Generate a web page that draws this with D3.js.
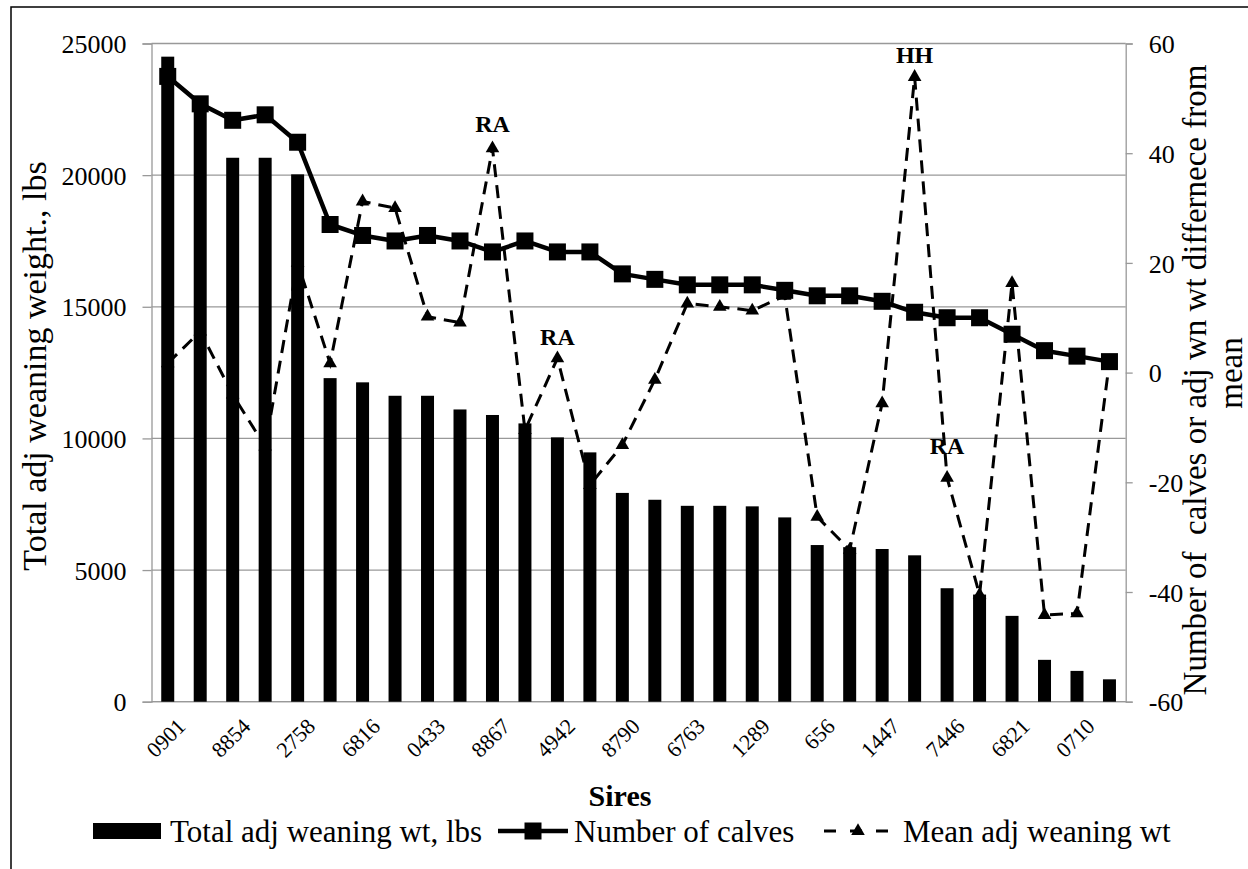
<!DOCTYPE html>
<html><head><meta charset="utf-8">
<script src="https://cdn.jsdelivr.net/npm/d3@7"></script>
<style>
body{margin:0;background:#fff}
svg{display:block;font-family:"Liberation Serif","Times New Roman",serif}
text{font-family:"Liberation Serif","Times New Roman",serif;fill:#000}
</style>
</head><body>
<svg id="chart" width="1248" height="869"></svg>
<script>
// ---- data ----
const sireLabels = ["0901","8854","2758","6816","0433","8867","4942","8790","6763","1289","656","1447","7446","6821","0710"];
const totalWt = [24500,22800,20660,20660,20030,12290,12130,11620,11620,11100,
                 10890,10570,10040,9470,7930,7670,7440,7440,7420,7000,
                 5950,5870,5800,5560,4310,4070,3260,1590,1170,850];
const numCalves = [54,49,46,47,42,27,25,24,25,24,22,24,22,22,18,17,16,16,16,15,14,14,13,11,10,10,7,4,3,2];
const meanDiff = [1.7,7.5,-4,-13.5,20,1.7,31.2,30,10.2,9.1,40.9,-10.5,2.6,-20.5,-13.2,-1.3,12.6,12,11.3,14,
                  -26.3,-32.3,-5.6,53.9,-19.2,-40.5,16.3,-44.2,-43.9,2];
const leftTicks = [0,5000,10000,15000,20000,25000];
const rightTicks = [-60,-40,-20,0,20,40,60];
const pointNotes = [{i:10,text:"RA",dy:-16},{i:12,text:"RA",dy:-13},{i:23,text:"HH",dy:-14},{i:24,text:"RA",dy:-24}];
const legendItems = ["Total adj weaning wt, lbs","Number of calves","Mean adj weaning wt"];

// ---- layout ----
const L=151.5, R=1125.7, T=43.5, B=701.7;
const svg = d3.select("#chart");
const grid = "#999999";
const serif = "Liberation Serif, Times New Roman, serif";

svg.append("rect").attr("x",11).attr("y",7).attr("width",1300).attr("height",900)
  .attr("fill","none").attr("stroke","#000").attr("stroke-width",1.5);

const idx = d3.range(totalWt.length);
const x = d3.scaleBand().domain(idx).range([L,R]).paddingInner(0.6).paddingOuter(0.3);
const cx = i => x(i) + x.bandwidth()/2;
const yL = d3.scaleLinear().domain([0,25000]).range([B,T]);
const yR = d3.scaleLinear().domain([-60,60]).range([B,T]);

// gridlines
svg.append("g").selectAll("line").data(leftTicks).join("line")
  .attr("x1",L).attr("x2",R).attr("y1",d=>yL(d)).attr("y2",d=>yL(d))
  .attr("stroke",grid).attr("stroke-width",1.3);

// left axis
const gl = svg.append("g").attr("transform",`translate(${L},0)`)
  .call(d3.axisLeft(yL).tickValues(leftTicks).tickSize(9).tickPadding(16).tickFormat(d3.format("d")));
gl.attr("font-family",serif);
gl.select(".domain").attr("stroke",grid).attr("stroke-width",1.3);
gl.selectAll(".tick line").attr("stroke",grid).attr("stroke-width",1.3);
gl.selectAll(".tick text").attr("font-size",26).attr("dy","0.35em");

// right axis
const gr = svg.append("g").attr("transform",`translate(${R},0)`)
  .call(d3.axisRight(yR).tickValues(rightTicks).tickSize(7).tickPadding(16));
gr.attr("font-family",serif);
gr.select(".domain").attr("stroke",grid).attr("stroke-width",1.3);
gr.selectAll(".tick line").attr("stroke",grid).attr("stroke-width",1.3);
gr.selectAll(".tick text").attr("font-size",26).attr("dy","0.35em")
  .text(d=> d<0 ? "-"+Math.abs(d) : d);

// bottom axis line
svg.append("line").attr("x1",L).attr("x2",R).attr("y1",B).attr("y2",B)
  .attr("stroke",grid).attr("stroke-width",1.3);

// bars
svg.append("g").selectAll("rect").data(totalWt).join("rect")
  .attr("x",(d,i)=>x(i)).attr("width",x.bandwidth())
  .attr("y",d=>yL(d)).attr("height",d=>B-yL(d)).attr("fill","#000");

// number of calves line
const lineC = d3.line().x((d,i)=>cx(i)).y(d=>yR(d));
svg.append("path").datum(numCalves).attr("d",lineC)
  .attr("fill","none").attr("stroke","#000").attr("stroke-width",4.5).attr("stroke-linejoin","round");
svg.append("g").selectAll("rect").data(numCalves).join("rect")
  .attr("x",(d,i)=>cx(i)-8.5).attr("y",d=>yR(d)-8.5).attr("width",17).attr("height",17).attr("fill","#000");

// mean adj weaning wt dashed line
svg.append("path").datum(meanDiff).attr("d",lineC)
  .attr("fill","none").attr("stroke","#000").attr("stroke-width",3).attr("stroke-dasharray","13,8");
const tri = d3.symbol().type(d3.symbolTriangle).size(80);
svg.append("g").selectAll("path").data(meanDiff).join("path")
  .attr("d",tri).attr("transform",(d,i)=>`translate(${cx(i)},${yR(d)})`).attr("fill","#000");

// point annotations
svg.append("g").selectAll("text").data(pointNotes).join("text")
  .attr("x",d=>cx(d.i)).attr("y",d=>yR(meanDiff[d.i])+d.dy)
  .attr("text-anchor","middle").attr("font-size",24).attr("font-weight","bold").text(d=>d.text);

// x tick labels (every other category)
svg.append("g").selectAll("text").data(sireLabels).join("text")
  .attr("transform",(d,k)=>`translate(${cx(2*k)+19},${B+26}) rotate(-45)`)
  .attr("text-anchor","end").attr("font-size",22).text(d=>d);

// axis titles
svg.append("text").attr("transform",`translate(46,366) rotate(-90)`).attr("text-anchor","middle")
  .attr("font-size",34).text("Total adj weaning weight., lbs");
svg.append("text").attr("transform",`translate(1206,380) rotate(-90)`).attr("text-anchor","middle")
  .attr("font-size",33).style("white-space","pre").text("Number of  calves or adj wn wt differnece from");
svg.append("text").attr("transform",`translate(1242,373) rotate(-90)`).attr("text-anchor","middle")
  .attr("font-size",33).text("mean");
svg.append("text").attr("x",620).attr("y",806).attr("text-anchor","middle")
  .attr("font-size",30).attr("font-weight","bold").text("Sires");

// legend
const ly = 831;
const lg = svg.append("g");
lg.append("rect").attr("x",93).attr("y",ly-8).attr("width",68).attr("height",16).attr("fill","#000");
lg.append("text").attr("x",170).attr("y",ly+11).attr("font-size",31).text(legendItems[0]);
lg.append("line").attr("x1",498).attr("x2",568).attr("y1",ly).attr("y2",ly).attr("stroke","#000").attr("stroke-width",4.5);
lg.append("rect").attr("x",524.5).attr("y",ly-8.5).attr("width",17).attr("height",17).attr("fill","#000");
lg.append("text").attr("x",574).attr("y",ly+11).attr("font-size",31).text(legendItems[1]);
lg.append("line").attr("x1",822).attr("x2",895).attr("y1",ly).attr("y2",ly).attr("stroke","#000").attr("stroke-width",3).attr("stroke-dasharray","12,14").attr("stroke-dashoffset",-2);
lg.append("path").attr("d",tri).attr("transform",`translate(858,${ly})`).attr("fill","#000");
lg.append("text").attr("x",903).attr("y",ly+11).attr("font-size",31).text(legendItems[2]);
</script>
</body></html>
